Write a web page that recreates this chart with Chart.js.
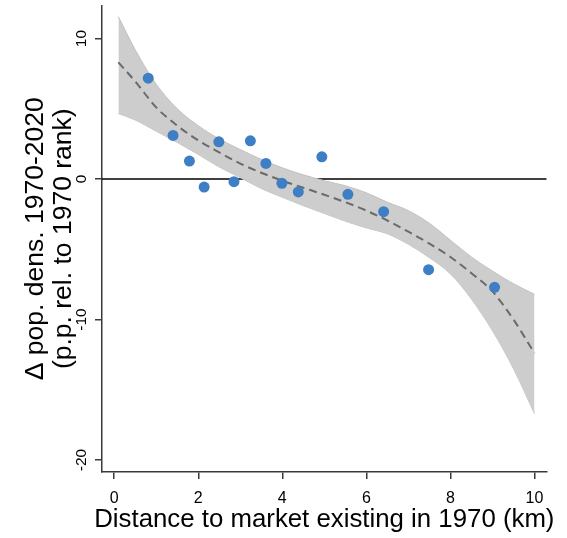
<!DOCTYPE html>
<html>
<head>
<meta charset="utf-8">
<script src="https://cdn.jsdelivr.net/npm/chart.js@4/dist/chart.umd.min.js"></script>
<style>
html,body{margin:0;padding:0;background:#fff;}
#wrap{width:567px;height:538px;}
</style>
</head>
<body>
<div id="wrap"><canvas id="c" width="567" height="538"></canvas></div>
<script>
// Binned scatter points
const binX = [0.81,1.40,1.79,2.14,2.49,2.85,3.24,3.61,3.99,4.38,4.94,5.56,6.41,7.48,9.05];
const binY = [7.18,3.10,1.28,-0.57,2.65,-0.19,2.72,1.11,-0.30,-0.92,1.58,-1.09,-2.32,-6.45,-7.71];
const gridX = [0.1,0.5,1,1.5,2,2.5,3,3.5,4,4.5,5,5.5,6,6.5,7,7.5,8,8.5,9,9.5,10];
const fitY = [8.3,6.95,5.1,3.8,2.75,1.9,1.1,0.45,-0.12,-0.62,-1.12,-1.65,-2.25,-2.95,-3.75,-4.6,-5.55,-6.7,-8.0,-10.0,-12.4];
const upperY = [11.56,9.2,6.75,5.0,3.8,2.85,2.1,1.4,0.8,0.3,-0.12,-0.48,-0.98,-1.65,-2.25,-3.15,-4.35,-5.55,-6.55,-7.45,-8.2];
const lowerY = [4.66,4.2,3.4,2.6,1.75,0.85,0.1,-0.68,-1.3,-1.9,-2.45,-3.0,-3.48,-3.9,-4.65,-5.6,-6.75,-8.55,-10.8,-13.5,-16.7];
// Axes
const xTicks = [0,2,4,6,8,10];
const yTicks = [-20,-10,0,10];
const xRange = [-0.29, 10.29];
const yRange = [-20.85, 12.35];
const xTitle = 'Distance to market existing in 1970 (km)';
const yTitle = ['Δ pop. dens. 1970-2020', '(p.p. rel. to 1970 rank)'];

const pts = (xs, ys) => xs.map((x, i) => ({x, y: ys[i]}));
const FONT = '"Liberation Sans", Arial, sans-serif';
const axisCol = '#3a3a3a';

const xTitlePlugin = {
  id: 'xTitlePlugin',
  afterDraw(chart) {
    const {ctx, chartArea} = chart;
    ctx.save();
    ctx.font = '25.8px ' + FONT;
    ctx.fillStyle = '#000';
    ctx.textAlign = 'center';
    ctx.textBaseline = 'alphabetic';
    ctx.fillText(xTitle, (chartArea.left + chartArea.right) / 2, 527);
    ctx.restore();
  }
};

new Chart(document.getElementById('c'), {
  type: 'scatter',
  data: {
    datasets: [
      {
        label: 'bins', data: pts(binX, binY), order: 0,
        backgroundColor: '#3d7ec5', borderColor: '#3d7ec5', pointRadius: 5.5, borderWidth: 0
      },
      {
        label: 'fit', type: 'line', data: pts(gridX, fitY), order: 1,
        borderColor: '#6a6a6a', borderWidth: 2, borderDash: [8, 5], pointRadius: 0,
        cubicInterpolationMode: 'monotone', fill: false
      },
      {
        label: 'upper', type: 'line', data: pts(gridX, upperY), order: 2,
        borderColor: '#c2c2c2', borderWidth: 1, pointRadius: 0,
        backgroundColor: '#cdcdcd', cubicInterpolationMode: 'monotone', fill: '+1'
      },
      {
        label: 'lower', type: 'line', data: pts(gridX, lowerY), order: 3,
        borderColor: '#c2c2c2', borderWidth: 1, pointRadius: 0,
        cubicInterpolationMode: 'monotone', fill: false
      },
      {
        label: 'zero', type: 'line', data: [{x: xRange[0], y: 0}, {x: xRange[1], y: 0}], order: 4,
        borderColor: '#000', borderWidth: 1.5, pointRadius: 0, fill: false
      }
    ]
  },
  plugins: [xTitlePlugin],
  options: {
    responsive: false,
    animation: false,
    devicePixelRatio: 1,
    layout: {padding: {top: 4, right: 20.3, left: 0, bottom: 0}},
    plugins: {legend: {display: false}, tooltip: {enabled: false}},
    scales: {
      x: {
        type: 'linear', min: xRange[0], max: xRange[1],
        afterFit: s => { s.height = 66; s.paddingLeft = 0; s.paddingRight = 0; },
        afterBuildTicks: s => { s.ticks = xTicks.map(v => ({value: v})); },
        grid: {display: true, drawOnChartArea: false, drawTicks: true, tickLength: 7, color: axisCol, lineWidth: 1.5},
        border: {display: true, color: axisCol, width: 1.5},
        ticks: {color: '#000', font: {family: FONT, size: 16}, padding: 10, maxRotation: 0, minRotation: 0},
        title: {display: false}
      },
      y: {
        type: 'linear', min: yRange[0], max: yRange[1],
        afterFit: s => { s.width = 102; s.paddingTop = 0; s.paddingBottom = 0; },
        afterBuildTicks: s => { s.ticks = yTicks.map(v => ({value: v})); },
        grid: {display: true, drawOnChartArea: false, drawTicks: true, tickLength: 7, color: axisCol, lineWidth: 1.5},
        border: {display: true, color: axisCol, width: 1.5},
        ticks: {color: '#000', font: {family: FONT, size: 15.5}, padding: 2.5, minRotation: 90, maxRotation: 90, crossAlign: 'center'},
        title: {display: true, text: yTitle, color: '#000', font: {family: FONT, size: 26.5, lineHeight: 1.05}, padding: {top: 22, bottom: 0}}
      }
    }
  }
});
</script>
</body>
</html>
